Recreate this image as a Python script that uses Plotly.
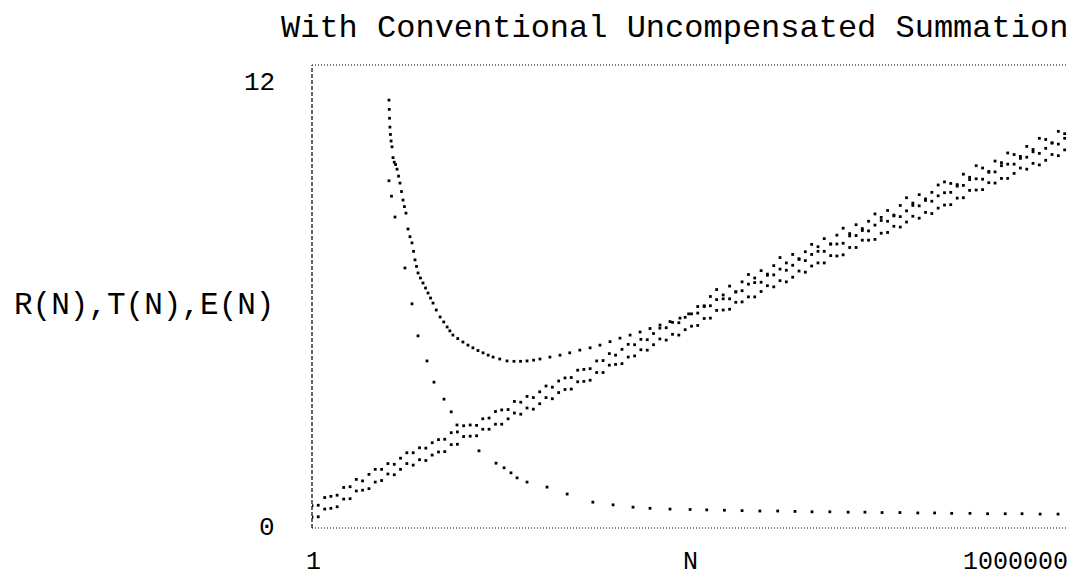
import plotly.graph_objects as go

# ---------------- data ----------------
TITLE = "With Conventional Uncompensated Summation"
Y_LABEL = "R(N),T(N),E(N)"
X_LABEL = "N"
X_TICK_LABELS = ["1", "1000000"]
Y_TICK_LABELS = ["0", "12"]
Y_RANGE = [0, 12]

# sample positions for the noisy roundoff band (mantissas per decade)
MANT = [1.0, 1.12, 1.26, 1.41, 1.58, 1.78, 2.0, 2.24, 2.51, 2.82,
        3.16, 3.55, 3.98, 4.47, 5.01, 5.62, 6.31, 7.08, 7.94, 8.91]
DECADES = [1, 10, 100, 1000, 10000, 100000]
N_GRID = [m * d for d in DECADES for m in MANT]

R_UPPER = [
    0.58, 0.59, 0.79, 0.82, 0.85, 1.05, 1.07, 1.26, 1.22, 1.39, 1.52, 1.52, 1.67, 1.65, 1.81, 1.95, 1.95, 2.08, 2.07, 2.21,
    2.29, 2.30, 2.47, 2.49, 2.65, 2.67, 2.66, 2.83, 2.85, 3.02, 3.06, 3.07, 3.28, 3.26, 3.41, 3.38, 3.53, 3.68, 3.65, 3.81,
    3.89, 3.90, 4.09, 4.11, 4.13, 4.33, 4.34, 4.52, 4.48, 4.63, 4.76, 4.75, 4.89, 4.88, 5.04, 5.18, 5.19, 5.33, 5.32, 5.46,
    5.55, 5.57, 5.74, 5.76, 5.92, 5.94, 5.94, 6.12, 6.15, 6.32, 6.36, 6.37, 6.58, 6.56, 6.71, 6.68, 6.81, 6.96, 6.93, 7.09,
    7.17, 7.17, 7.36, 7.36, 7.38, 7.57, 7.58, 7.76, 7.70, 7.85, 7.97, 7.95, 8.09, 8.07, 8.22, 8.36, 8.35, 8.49, 8.47, 8.61,
    8.69, 8.70, 8.86, 8.88, 9.03, 9.05, 9.04, 9.22, 9.23, 9.39, 9.43, 9.43, 9.63, 9.61, 9.75, 9.71, 9.84, 9.98, 9.95, 10.10,
]
R_LOWER = [
    0.28, 0.29, 0.49, 0.51, 0.55, 0.75, 0.76, 0.96, 0.98, 1.02, 1.19, 1.23, 1.40, 1.38, 1.52, 1.67, 1.63, 1.77, 1.75, 1.89,
    1.97, 1.98, 2.16, 2.17, 2.37, 2.38, 2.39, 2.56, 2.56, 2.69, 2.69, 2.83, 2.98, 2.95, 3.11, 3.08, 3.22, 3.38, 3.35, 3.51,
    3.59, 3.60, 3.79, 3.80, 3.83, 4.03, 4.03, 4.22, 4.24, 4.26, 4.43, 4.46, 4.62, 4.61, 4.75, 4.90, 4.87, 5.02, 5.00, 5.14,
    5.23, 5.25, 5.43, 5.44, 5.64, 5.65, 5.67, 5.85, 5.86, 5.99, 5.99, 6.13, 6.28, 6.25, 6.41, 6.38, 6.50, 6.66, 6.63, 6.79,
    6.87, 6.87, 7.06, 7.05, 7.08, 7.27, 7.27, 7.46, 7.46, 7.48, 7.64, 7.66, 7.82, 7.80, 7.93, 8.08, 8.03, 8.18, 8.15, 8.29,
    8.37, 8.38, 8.55, 8.56, 8.75, 8.76, 8.77, 8.95, 8.94, 9.06, 9.06, 9.19, 9.33, 9.30, 9.45, 9.41, 9.53, 9.68, 9.65, 9.80,
]

# total error E(N): smooth U-shaped part, then noisy part on the grid (N >= 1120)
E_N = [4.06, 4.08, 4.10, 4.13, 4.17, 4.22, 4.29, 4.37, 4.47, 4.58, 4.70, 4.83, 4.96, 5.10, 5.24,
       5.38, 5.53, 5.74, 5.95, 6.17, 6.35, 6.52, 6.70, 6.89, 7.20, 7.54, 7.90, 8.26, 8.65, 9.05,
       9.60, 10.3, 11.0, 11.7, 12.3, 13.0, 14.2, 15.6, 17.1, 18.7, 20.5, 22.5, 24.7, 27.0, 30.5,
       34.8, 39.5, 44.5, 50.1, 56.5, 63.4, 76.0, 91.3, 109, 131, 158, 189, 227, 272, 327,
       392, 470, 564, 676, 811, 950]
E_VAL = [11.09, 10.85, 10.62, 10.39, 10.20, 10.03, 9.88, 9.60, 9.48, 9.42, 9.30, 9.12, 8.94, 8.72, 8.50,
         8.33, 8.16, 7.75, 7.55, 7.39, 7.17, 6.95, 6.78, 6.61, 6.48, 6.35, 6.22, 6.09, 5.96, 5.83,
         5.65, 5.47, 5.34, 5.21, 5.11, 5.00, 4.91, 4.82, 4.74, 4.67, 4.60, 4.54, 4.48, 4.43, 4.38,
         4.33, 4.32, 4.32, 4.33, 4.35, 4.38, 4.43, 4.48, 4.54, 4.61, 4.67, 4.74, 4.83, 4.92, 5.00,
         5.08, 5.17, 5.26, 5.35, 5.44, 5.55]
E_BAND_N = N_GRID[61:]
E_BAND = [
    5.74, 5.76, 6.00, 6.18, 6.04, 6.27, 6.12, 6.38, 6.57, 6.48, 6.67, 6.55, 6.80, 7.01, 6.87, 7.09, 6.98, 7.16, 7.35,
    7.29, 7.50, 7.36, 7.59, 7.77, 7.63, 7.86, 7.71, 7.95, 8.14, 8.05, 8.23, 8.11, 8.36, 8.56, 8.42, 8.64, 8.53, 8.70, 8.89,
    8.97, 8.93, 8.90, 9.17, 9.09, 9.39, 9.33, 9.24, 9.51, 9.47, 9.72, 9.68, 9.58, 9.89, 9.81, 10.10, 10.07, 9.98, 10.28, 10.22,
]

# truncation error T(N)
T_N = [4.06, 4.25, 4.53, 5.43, 6.17, 6.89, 8.11, 9.21, 11.05, 12.6, 14.0, 20.9, 28.5, 33.0, 37.4,
       41.8, 50.1, 72.1, 104, 166, 240, 345, 470, 676, 975, 1320, 1820, 2510, 3470, 4800,
       6580, 8960, 12400, 17300, 23500, 32100, 44400, 61500, 83500, 114000, 159000, 219000,
       302000, 410000, 570000, 790000]
T_VAL = [9.00, 8.60, 8.06, 6.74, 5.81, 4.98, 4.33, 3.78, 3.34, 3.01, 2.67, 2.00, 1.68, 1.56, 1.43,
         1.30, 1.19, 1.06, 0.88, 0.67, 0.60, 0.54, 0.51, 0.49, 0.48, 0.47, 0.46, 0.45, 0.44, 0.44,
         0.43, 0.42, 0.42, 0.41, 0.41, 0.40, 0.40, 0.39, 0.39, 0.38, 0.38, 0.37,
         0.37, 0.37, 0.36, 0.36]

# ---------------- figure ----------------
FONT = "Liberation Mono, Courier New, monospace"
INK = "#000000"

def dots(x, y, size=3):
    return go.Scatter(x=x, y=y, mode="markers", showlegend=False, hoverinfo="skip",
                      marker=dict(symbol="square", size=size, color=INK, line=dict(width=0)))

fig = go.Figure()
fig.add_trace(dots(N_GRID, R_UPPER, 2.8))
fig.add_trace(dots(N_GRID, R_LOWER, 2.8))
fig.add_trace(dots(E_N + E_BAND_N, E_VAL + E_BAND, 2.8))
fig.add_trace(dots(T_N, T_VAL, 2.8))

# page body has an 8px margin: screen coordinate = figure coordinate + 8
OFF = 8
W, H = 1067, 572
PLOT_L, PLOT_R, PLOT_T, PLOT_B = 312, 1071, 65, 528   # screen pixels
L = PLOT_L - OFF
R = W - (PLOT_R - OFF)
T = PLOT_T - OFF
B = H - (PLOT_B - OFF)
PW, PH = PLOT_R - PLOT_L, PLOT_B - PLOT_T

def px(xs):
    return (xs - PLOT_L) / PW

def py(ys):
    return (PLOT_B - ys) / PH

fig.update_layout(
    width=W, height=H,
    margin=dict(l=L, r=R, t=T, b=B, pad=0),
    paper_bgcolor="white", plot_bgcolor="white",
    font=dict(family=FONT, color=INK),
    xaxis=dict(type="log", range=[0, 6], showgrid=False, zeroline=False,
               showline=False, showticklabels=False, ticks=""),
    yaxis=dict(range=Y_RANGE, showgrid=False, zeroline=False,
               showline=False, showticklabels=False, ticks=""),
)

# dotted frame
frame = [
    dict(x0=0, x1=1, y0=1, y1=1, dash="1px,2px", w=1),
    dict(x0=0, x1=1, y0=0, y1=0, dash="1px,2px", w=1),
    dict(x0=0, x1=0, y0=0, y1=1, dash="4px,2px", w=1.2),
    dict(x0=1, x1=1, y0=0, y1=1, dash="4px,2px", w=1.2),
]
for f in frame:
    fig.add_shape(type="line", xref="paper", yref="paper",
                  x0=f["x0"], x1=f["x1"], y0=f["y0"], y1=f["y1"],
                  line=dict(color=INK, width=f["w"], dash=f["dash"]))

def label(text, xs, ys, anchor, size):
    fig.add_annotation(text=text, xref="paper", yref="paper", x=px(xs), y=py(ys),
                       xanchor=anchor, yanchor="middle", showarrow=False, borderpad=0,
                       font=dict(family=FONT, size=size, color=INK))

label(TITLE, 1069, 28, "right", 32)
label(Y_LABEL, 13, 305, "left", 31)
label(Y_TICK_LABELS[1], 276, 83, "right", 26)
label(Y_TICK_LABELS[0], 276, 528, "right", 26)
label(X_TICK_LABELS[0], 313, 562, "center", 25)
label(X_LABEL, 690, 562, "center", 25)
label(X_TICK_LABELS[1], 1069, 562, "right", 25)

fig.write_html("out.html")
